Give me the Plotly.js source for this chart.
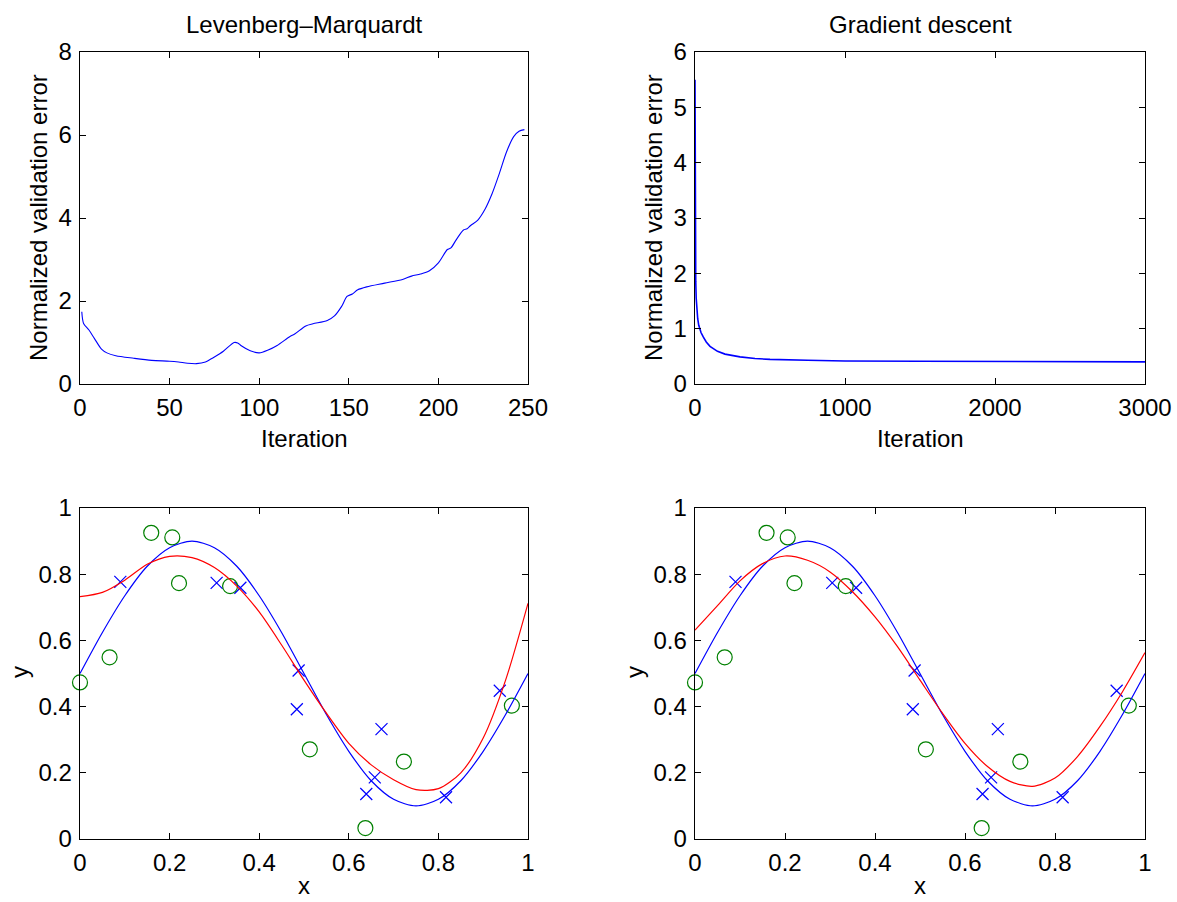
<!DOCTYPE html>
<html>
<head>
<meta charset="utf-8">
<script src="https://cdn.plot.ly/plotly-3.0.1.min.js"></script>
<style>
  html, body { margin: 0; padding: 0; background: #fff; }
  #chart { width: 1177px; height: 902px; }
</style>
</head>
<body>
<div id="chart"></div>
<script>
// Validation error per iteration, Levenberg–Marquardt training
const lmIter = [1, 2, 5, 8, 12, 15, 20, 30, 40, 50, 55, 60, 65, 70, 73, 75, 80, 86, 88, 90, 95, 100, 105, 110, 117, 120, 126, 130, 138, 142, 146, 149, 152, 155, 160, 170, 180, 185, 190, 195, 200, 205, 207, 210, 214, 216, 218, 222, 226, 230, 234, 238, 242, 245, 248];
const lmErr  = [1.74, 1.46, 1.30, 1.10, 0.84, 0.75, 0.68, 0.62, 0.57, 0.55, 0.53, 0.50, 0.49, 0.53, 0.60, 0.65, 0.79, 1.00, 0.99, 0.92, 0.80, 0.75, 0.82, 0.93, 1.14, 1.21, 1.40, 1.45, 1.53, 1.64, 1.87, 2.11, 2.17, 2.27, 2.34, 2.43, 2.52, 2.60, 2.65, 2.73, 2.92, 3.24, 3.28, 3.48, 3.71, 3.74, 3.82, 3.95, 4.21, 4.59, 5.07, 5.59, 5.96, 6.09, 6.13];

// Validation error per iteration, gradient descent training
const gdIter = [0, 1, 2, 3, 5, 8, 12, 18, 25, 30, 40, 55, 75, 100, 150, 200, 300, 400, 500, 750, 1000, 1500, 2000, 2500, 3000];
const gdErr  = [5.50, 4.10, 2.63, 2.20, 1.85, 1.55, 1.35, 1.18, 1.06, 1.00, 0.93, 0.85, 0.76, 0.68, 0.59, 0.54, 0.49, 0.46, 0.445, 0.43, 0.415, 0.41, 0.405, 0.40, 0.40];

// Training samples (crosses) and validation samples (circles)
const xTrain = [0.090, 0.305, 0.358, 0.488, 0.484, 0.673, 0.658, 0.639, 0.817, 0.937];
const tTrain = [0.777, 0.774, 0.759, 0.509, 0.392, 0.332, 0.186, 0.136, 0.126, 0.448];
const xValid = [0.000, 0.066, 0.159, 0.206, 0.221, 0.335, 0.513, 0.723, 0.637, 0.964];
const tValid = [0.473, 0.549, 0.925, 0.911, 0.773, 0.764, 0.271, 0.234, 0.033, 0.403];

// Underlying function and the two network fits, sampled along x
const xCurve = [0, 0.05, 0.1, 0.15, 0.2, 0.25, 0.3, 0.35, 0.4, 0.45, 0.5, 0.55, 0.6, 0.65, 0.7, 0.75, 0.8, 0.85, 0.9, 0.95, 1.0];
const yTrue  = [0.500, 0.624, 0.735, 0.824, 0.880, 0.900, 0.880, 0.824, 0.735, 0.624, 0.500, 0.376, 0.265, 0.176, 0.120, 0.100, 0.120, 0.176, 0.265, 0.376, 0.500];
const yFitLM = [0.732, 0.745, 0.782, 0.830, 0.854, 0.850, 0.820, 0.764, 0.686, 0.586, 0.480, 0.380, 0.289, 0.224, 0.179, 0.149, 0.152, 0.200, 0.305, 0.480, 0.712];
const yFitGD = [0.631, 0.705, 0.780, 0.832, 0.855, 0.842, 0.807, 0.747, 0.671, 0.581, 0.480, 0.380, 0.289, 0.219, 0.174, 0.159, 0.184, 0.249, 0.340, 0.445, 0.563];

const W = 1177, H = 902;
const FONT = 'Liberation Sans, Arial, Helvetica, sans-serif';
const FS = 24;
const BLUE = 'rgb(0,0,255)', RED = 'rgb(255,0,0)', GREEN = 'rgb(0,128,0)';

// Subplot boxes in pixels: [left, right, top, bottom]
const boxes = {
  tl: [80, 528, 52, 384],
  tr: [695, 1145, 52, 384],
  bl: [80, 528, 508, 839],
  br: [695, 1145, 508, 839]
};
const xd = b => [b[0] / W, b[1] / W];
const yd = b => [1 - b[3] / H, 1 - b[2] / H];

function axis(domain, range, dtick, anchor) {
  return {
    domain: domain, range: range, dtick: dtick, tick0: 0, anchor: anchor,
    showline: true, linecolor: 'black', linewidth: 1.4, mirror: 'ticks',
    ticks: 'inside', ticklen: 6, tickcolor: 'black', tickwidth: 1,
    ticklabelstandoff: 2,
    showgrid: false, zeroline: false, fixedrange: true,
    tickfont: { family: FONT, size: FS, color: 'black' }
  };
}

const lineTrace = (x, y, color, xa, ya, w, shape) => ({
  x: x, y: y, xaxis: xa, yaxis: ya, type: 'scatter', mode: 'lines',
  line: { color: color, width: w, shape: shape || 'linear', smoothing: 0.8 }, hoverinfo: 'skip'
});
const crossTrace = (xa, ya) => ({
  x: xTrain, y: tTrain, xaxis: xa, yaxis: ya, type: 'scatter', mode: 'markers',
  marker: { symbol: 'x-thin-open', size: 12, color: BLUE, line: { color: BLUE, width: 1.2 } }, cliponaxis: false
});
const circleTrace = (xa, ya) => ({
  x: xValid, y: tValid, xaxis: xa, yaxis: ya, type: 'scatter', mode: 'markers',
  marker: { symbol: 'circle-open', size: 15, color: GREEN, line: { color: GREEN, width: 1.2 } }, cliponaxis: false
});

const data = [
  lineTrace(lmIter, lmErr, BLUE, 'x', 'y', 1.1, 'spline'),
  lineTrace(gdIter, gdErr, BLUE, 'x2', 'y2', 1.6),
  crossTrace('x3', 'y3'), circleTrace('x3', 'y3'),
  lineTrace(xCurve, yTrue, BLUE, 'x3', 'y3', 1.2, 'spline'),
  lineTrace(xCurve, yFitLM, RED, 'x3', 'y3', 1.2, 'spline'),
  crossTrace('x4', 'y4'), circleTrace('x4', 'y4'),
  lineTrace(xCurve, yTrue, BLUE, 'x4', 'y4', 1.2, 'spline'),
  lineTrace(xCurve, yFitGD, RED, 'x4', 'y4', 1.2, 'spline')
];

function label(text, px, py, angle) {
  return {
    text: text, xref: 'paper', yref: 'paper', x: px / W, y: 1 - py / H,
    xanchor: 'center', yanchor: 'middle', showarrow: false, textangle: angle || 0,
    font: { family: FONT, size: FS, color: 'black' }
  };
}

const layout = {
  width: W, height: H, showlegend: false,
  paper_bgcolor: 'white', plot_bgcolor: 'white',
  margin: { l: 0, r: 0, t: 0, b: 0 },
  xaxis:  axis(xd(boxes.tl), [0, 250], 50, 'y'),
  yaxis:  axis(yd(boxes.tl), [0, 8], 2, 'x'),
  xaxis2: axis(xd(boxes.tr), [0, 3000], 1000, 'y2'),
  yaxis2: axis(yd(boxes.tr), [0, 6], 1, 'x2'),
  xaxis3: axis(xd(boxes.bl), [0, 1], 0.2, 'y3'),
  yaxis3: axis(yd(boxes.bl), [0, 1], 0.2, 'x3'),
  xaxis4: axis(xd(boxes.br), [0, 1], 0.2, 'y4'),
  yaxis4: axis(yd(boxes.br), [0, 1], 0.2, 'x4'),
  annotations: [
    label('Levenberg–Marquardt', 304, 25),
    label('Gradient descent', 920, 25),
    label('Iteration', 304, 438),
    label('Iteration', 920, 438),
    label('Normalized validation error', 38, 218, -90),
    label('Normalized validation error', 653, 218, -90),
    label('x', 304, 885),
    label('x', 920, 885),
    label('y', 19, 672, -90),
    label('y', 634, 672, -90)
  ]
};

Plotly.newPlot('chart', data, layout, { displayModeBar: false, staticPlot: true });
</script>
</body>
</html>
